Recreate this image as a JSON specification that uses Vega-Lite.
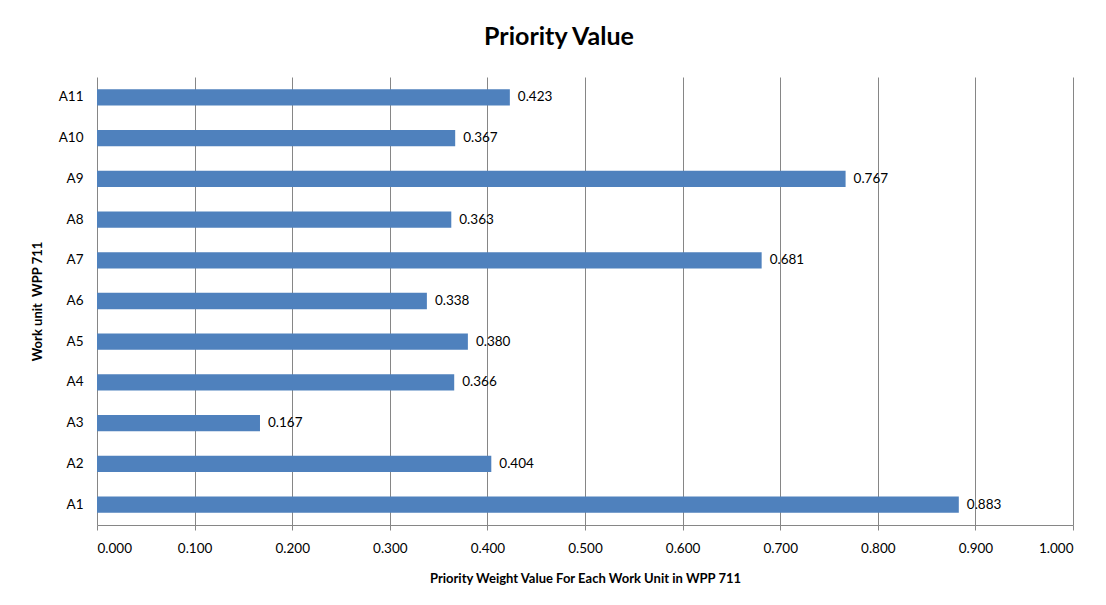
{
  "$schema": "https://vega.github.io/schema/vega-lite/v6.json",
  "autosize": {"type": "none"},
  "padding": {"left": 97, "top": 77, "right": 33, "bottom": 80},
  "width": 976,
  "height": 448,
  "background": "white",
  "title": {
    "text": "Priority Value",
    "font": "Lato",
    "fontSize": 25,
    "fontWeight": "bold",
    "color": "#000000",
    "anchor": "middle",
    "dx": -26,
    "offset": 27
  },
  "data": {
    "values": [
      {"unit": "A1", "value": 0.883},
      {"unit": "A2", "value": 0.404},
      {"unit": "A3", "value": 0.167},
      {"unit": "A4", "value": 0.366},
      {"unit": "A5", "value": 0.380},
      {"unit": "A6", "value": 0.338},
      {"unit": "A7", "value": 0.681},
      {"unit": "A8", "value": 0.363},
      {"unit": "A9", "value": 0.767},
      {"unit": "A10", "value": 0.367},
      {"unit": "A11", "value": 0.423}
    ]
  },
  "encoding": {
    "y": {
      "field": "unit",
      "type": "nominal",
      "sort": ["A11", "A10", "A9", "A8", "A7", "A6", "A5", "A4", "A3", "A2", "A1"],
      "scale": {"paddingInner": 0.6, "paddingOuter": 0.3},
      "axis": {
        "title": "Work unit\u00a0\u00a0WPP 711",
        "titleFont": "Lato",
        "titleFontSize": 13,
        "titleFontWeight": "bold",
        "titleColor": "#000000",
        "titlePadding": 14,
        "labelFont": "Lato",
        "labelFontSize": 13.5,
        "labelColor": "#000000",
        "labelPadding": 14,
        "ticks": false,
        "domain": false,
        "grid": false
      }
    },
    "x": {
      "field": "value",
      "type": "quantitative",
      "scale": {"domain": [0, 1], "nice": false},
      "axis": {
        "values": [0, 0.1, 0.2, 0.3, 0.4, 0.5, 0.6, 0.7, 0.8, 0.9, 1.0],
        "format": ".3f",
        "title": "Priority Weight Value For Each Work Unit in WPP 711",
        "titleFont": "Lato",
        "titleFontSize": 13,
        "titleFontWeight": "bold",
        "titleColor": "#000000",
        "titlePadding": 18,
        "labelFont": "Lato",
        "labelFontSize": 13.5,
        "labelColor": "#000000",
        "labelPadding": 11,
        "tickSize": 5,
        "tickColor": "#868686",
        "domainColor": "#868686",
        "gridColor": "#868686",
        "gridOpacity": 1,
        "grid": true
      }
    }
  },
  "layer": [
    {"mark": {"type": "bar", "color": "#4F81BD"}},
    {
      "mark": {"type": "text", "align": "left", "dx": 8, "font": "Lato", "fontSize": 13.5, "color": "#000000"},
      "encoding": {"text": {"field": "value", "type": "quantitative", "format": ".3f"}}
    }
  ],
  "config": {"view": {"stroke": null}}
}
